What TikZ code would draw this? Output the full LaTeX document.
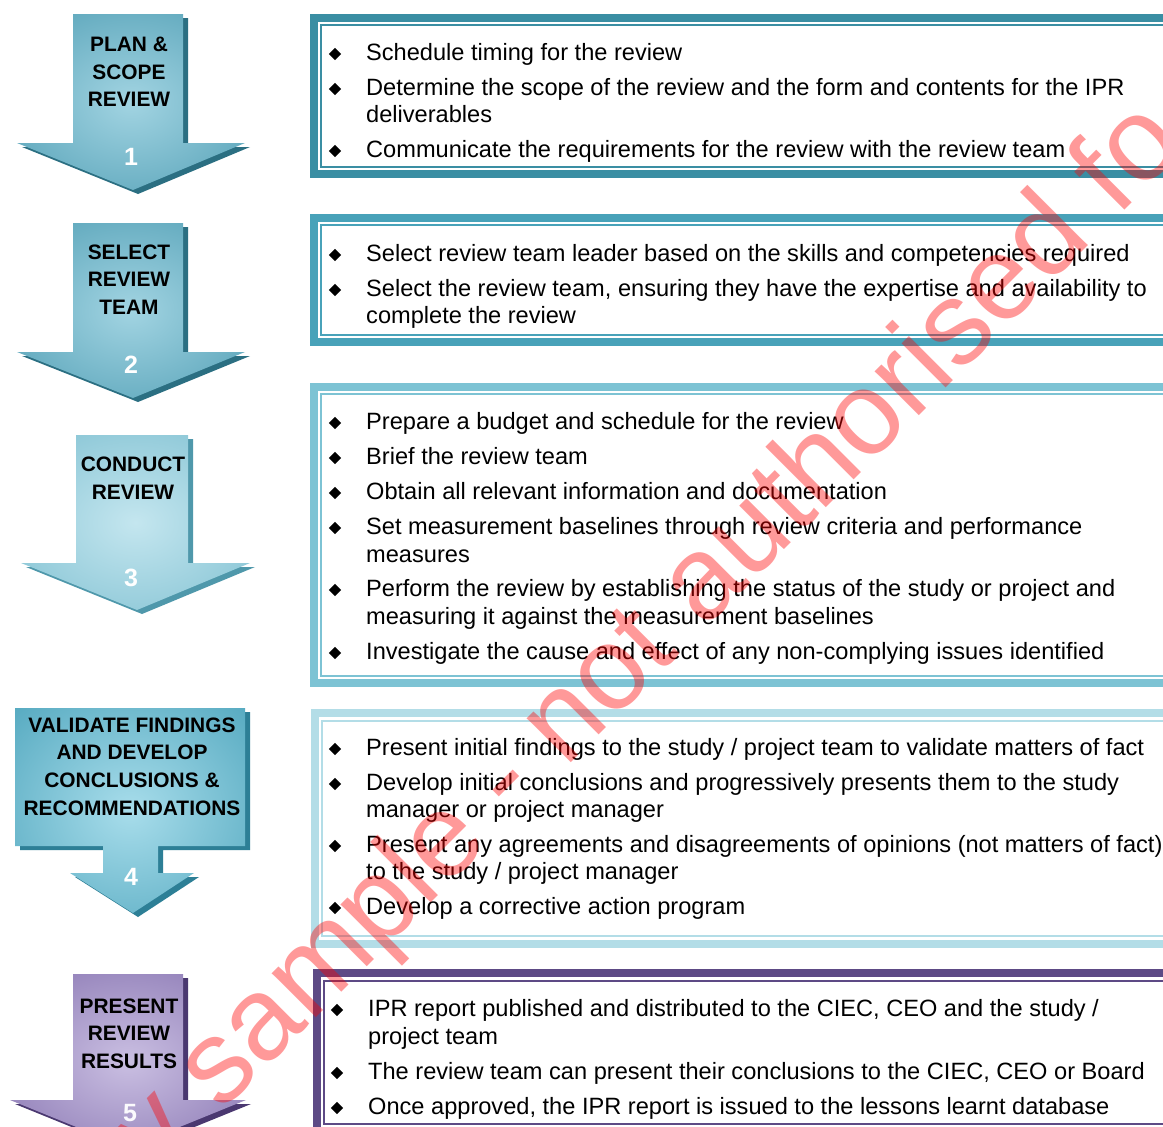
\documentclass[tikz,border=0pt]{standalone}
\usepackage{fontspec}
\setmainfont{Liberation Sans}
\usetikzlibrary{shapes.geometric}

% frame colours of the five activity panels
\definecolor{frameA}{HTML}{3A8EA3}
\definecolor{frameB}{HTML}{48A2B9}
\definecolor{frameC}{HTML}{7DC3D4}
\definecolor{frameD}{HTML}{B3DDE7}
\definecolor{frameE}{HTML}{5D4A85}

% arrow body colours (light centre, darker rim) and their side faces
\definecolor{arrAlight}{HTML}{A2D4E2}
\definecolor{arrAdark}{HTML}{3E92AA}
\definecolor{arrAside}{HTML}{2B6F82}
\definecolor{arrClight}{HTML}{C4E6EF}
\definecolor{arrCdark}{HTML}{6FB7CA}
\definecolor{arrCside}{HTML}{4F98AB}
\definecolor{arrDlight}{HTML}{A8DDEB}
\definecolor{arrDdark}{HTML}{409CB5}
\definecolor{arrDside}{HTML}{2D7F96}
\definecolor{arrElight}{HTML}{CABFE2}
\definecolor{arrEdark}{HTML}{7762A5}
\definecolor{arrEside}{HTML}{4A3870}

\pgfdeclareradialshading{glowA}{\pgfpoint{0bp}{0bp}}{color(0bp)=(arrAlight); color(46bp)=(arrAdark); color(80bp)=(arrAdark)}
\pgfdeclareradialshading{glowC}{\pgfpoint{0bp}{0bp}}{color(0bp)=(arrClight); color(46bp)=(arrCdark); color(80bp)=(arrCdark)}
\pgfdeclareradialshading{glowD}{\pgfpoint{0bp}{0bp}}{color(0bp)=(arrDlight); color(46bp)=(arrDdark); color(80bp)=(arrDdark)}
\pgfdeclareradialshading{glowE}{\pgfpoint{0bp}{0bp}}{color(0bp)=(arrElight); color(46bp)=(arrEdark); color(80bp)=(arrEdark)}

\begin{document}
\begin{tikzpicture}[x=1pt,y=-1pt,
  line/.style={anchor=base west, inner sep=0pt, font=\fontsize{23.6}{27}\selectfont},
  bul/.style={rectangle, rotate=45, fill=black, inner sep=0pt, minimum size=8.6pt},
  steplabel/.style={align=center, inner sep=0pt, text=black,
    font=\fontsize{20.9}{27.6}\selectfont\bfseries},
  stepnum/.style={inner sep=0pt, text=white, font=\fontsize{25}{25}\selectfont\bfseries},
  sideface/.style={shift={(5,4)}}
]
\useasboundingbox (0,0) rectangle (1163,1127);
\clip (0,0) rectangle (1163,1127);
\fill[white] (0,0) rectangle (1163,1127);

% ---------- step arrows ----------
% 1
\fill[arrAside, sideface] (73,14) -- (183,14) -- (183,143) -- (245,143) -- (133,190) -- (17,143) -- (73,143) -- cycle;
\shade[shading=glowA] (73,14) -- (183,14) -- (183,143) -- (245,143) -- (133,190) -- (17,143) -- (73,143) -- cycle;
% 2
\fill[arrAside, sideface] (73,223) -- (183,223) -- (183,352) -- (245,352) -- (133,398) -- (17,352) -- (73,352) -- cycle;
\shade[shading=glowA] (73,223) -- (183,223) -- (183,352) -- (245,352) -- (133,398) -- (17,352) -- (73,352) -- cycle;
% 3
\fill[arrCside, sideface] (76,435) -- (188,435) -- (188,563) -- (250,563) -- (137,610) -- (21,563) -- (76,563) -- cycle;
\shade[shading=glowC] (76,435) -- (188,435) -- (188,563) -- (250,563) -- (137,610) -- (21,563) -- (76,563) -- cycle;
% 4
\fill[arrDside, sideface] (15,708) -- (245,708) -- (245,846) -- (158,846) -- (158,873) -- (194,873) -- (133,913) -- (70,873) -- (103,873) -- (103,846) -- (15,846) -- cycle;
\shade[shading=glowD] (15,708) -- (245,708) -- (245,846) -- (158,846) -- (158,873) -- (194,873) -- (133,913) -- (70,873) -- (103,873) -- (103,846) -- (15,846) -- cycle;
% 5
\fill[arrEside, sideface] (73,974) -- (183,974) -- (183,1100) -- (246,1100) -- (128,1148) -- (10,1100) -- (73,1100) -- cycle;
\shade[shading=glowE] (73,974) -- (183,974) -- (183,1100) -- (246,1100) -- (128,1148) -- (10,1100) -- (73,1100) -- cycle;

\node[steplabel] (s1) at (129,72) {PLAN \&\\SCOPE\\REVIEW};
\node[stepnum] (n1) at (131,157) {1};
\node[steplabel] (s2) at (129,279.5) {SELECT\\REVIEW\\TEAM};
\node[stepnum] (n2) at (131,365) {2};
\node[steplabel] (s3) at (133,478) {CONDUCT\\REVIEW};
\node[stepnum] (n3) at (131,578) {3};
\node[steplabel] (s4) at (132,766.5) {VALIDATE FINDINGS\\AND DEVELOP\\CONCLUSIONS \&\\RECOMMENDATIONS};
\node[stepnum] (n4) at (131,877) {4};
\node[steplabel] (s5) at (129,1033.5) {PRESENT\\REVIEW\\RESULTS};
\node[stepnum, text=white!92!arrElight] (n5) at (130,1113) {5};

% ---------- activity panels ----------
% 1
\fill[frameA] (310,14) rectangle (1180,178);
\fill[white] (318,22) rectangle (1180,170);
\draw[frameA, line width=2] (321,25) rectangle (1190,167);
% 2
\fill[frameB] (310,214) rectangle (1180,346);
\fill[white] (318,222) rectangle (1180,338);
\draw[frameB, line width=2] (321,225) rectangle (1190,335);
% 3
\fill[frameC] (310,383) rectangle (1180,687);
\fill[white] (318,391) rectangle (1180,679);
\draw[frameC, line width=2] (321,394) rectangle (1190,676);
% 4
\fill[frameD] (311,709) rectangle (1180,948);
\fill[white] (319,717) rectangle (1180,940);
\draw[frameD, line width=2] (322,721) rectangle (1190,936);
% 5
\fill[frameE] (313,969) rectangle (1180,1135);
\fill[white] (321,977) rectangle (1180,1127);
\draw[frameE, line width=2] (324,981) rectangle (1190,1124);

% panel 1 text
\node[bul] (d1a) at (335,54) {};
\node[line] (t1a) at (366,60.5) {Schedule timing for the review};
\node[bul] (d1b) at (335,89) {};
\node[line] (t1b) at (366,95.5) {Determine the scope of the review and the form and contents for the IPR};
\node[line] (t1c) at (366,122.5) {deliverables};
\node[bul] (d1c) at (335,151) {};
\node[line] (t1d) at (366,157.5) {Communicate the requirements for the review with the review team};

% panel 2 text
\node[bul] (d2a) at (335,255) {};
\node[line] (t2a) at (366,261.5) {Select review team leader based on the skills and competencies required};
\node[bul] (d2b) at (335,290) {};
\node[line] (t2b) at (366,296.5) {Select the review team, ensuring they have the expertise and availability to};
\node[line] (t2c) at (366,323.5) {complete the review};

% panel 3 text
\node[bul] (d3a) at (335,423) {};
\node[line] (t3a) at (366,429.5) {Prepare a budget and schedule for the review};
\node[bul] (d3b) at (335,458) {};
\node[line] (t3b) at (366,464.5) {Brief the review team};
\node[bul] (d3c) at (335,493) {};
\node[line] (t3c) at (366,499.5) {Obtain all relevant information and documentation};
\node[bul] (d3d) at (335,528) {};
\node[line] (t3d) at (366,534.5) {Set measurement baselines through review criteria and performance};
\node[line] (t3e) at (366,562.5) {measures};
\node[bul] (d3f) at (335,590) {};
\node[line] (t3f) at (366,596.5) {Perform the review by establishing the status of the study or project and};
\node[line] (t3g) at (366,624.5) {measuring it against the measurement baselines};
\node[bul] (d3h) at (335,653) {};
\node[line] (t3h) at (366,659.5) {Investigate the cause and effect of any non-complying issues identified};

% panel 4 text
\node[bul] (d4a) at (335,749) {};
\node[line] (t4a) at (366,755.5) {Present initial findings to the study / project team to validate matters of fact};
\node[bul] (d4b) at (335,784) {};
\node[line] (t4b) at (366,790.5) {Develop initial conclusions and progressively presents them to the study};
\node[line] (t4c) at (366,817.5) {manager or project manager};
\node[bul] (d4d) at (335,846) {};
\node[line] (t4d) at (366,852.5) {Present any agreements and disagreements of opinions (not matters of fact)};
\node[line] (t4e) at (366,879.5) {to the study / project manager};
\node[bul] (d4f) at (335,908) {};
\node[line] (t4f) at (366,914.5) {Develop a corrective action program};

% panel 5 text
\node[bul] (d5a) at (337,1010) {};
\node[line] (t5a) at (368,1016.5) {IPR report published and distributed to the CIEC, CEO and the study /};
\node[line] (t5b) at (368,1044.5) {project team};
\node[bul] (d5c) at (337,1073) {};
\node[line] (t5c) at (368,1079.5) {The review team can present their conclusions to the CIEC, CEO or Board};
\node[bul] (d5d) at (337,1108) {};
\node[line] (t5d) at (368,1114.5) {Once approved, the IPR report is issued to the lessons learnt database};

% diagonal stamp across the sheet
\node[rotate=45, anchor=base west, inner sep=0pt, text=red, text opacity=0.4,
  font=\fontsize{118}{118}\selectfont] (stamp) at (157,1177) {y sample - not authorised fo};
\end{tikzpicture}
\end{document}
